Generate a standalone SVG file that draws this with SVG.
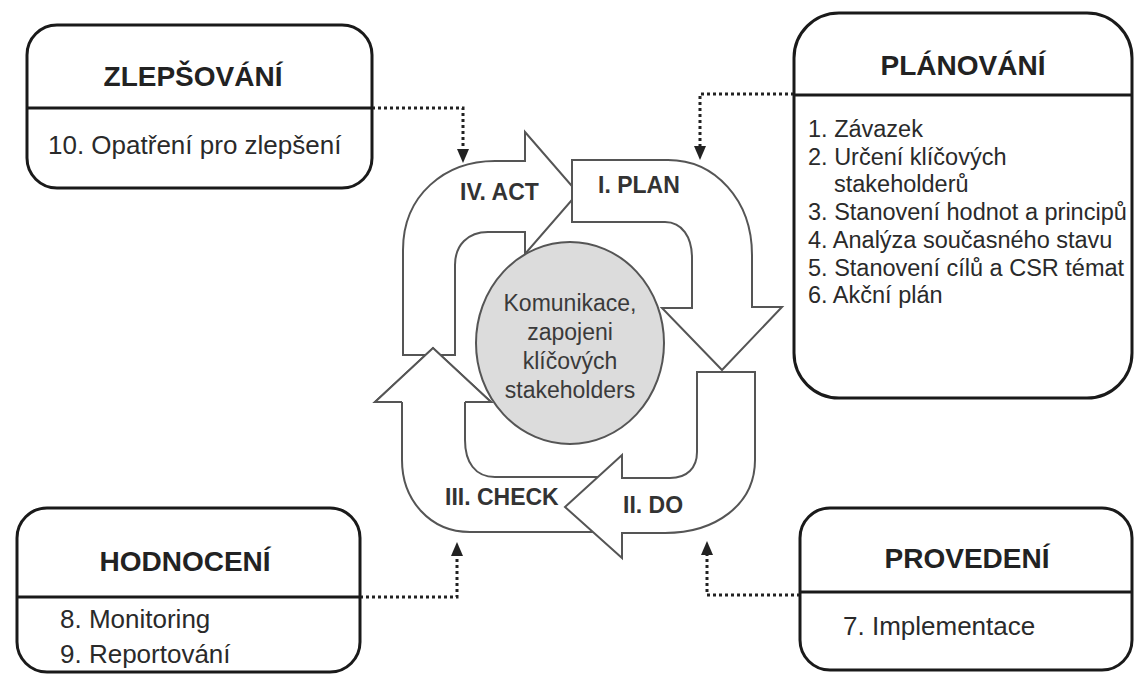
<svg xmlns="http://www.w3.org/2000/svg" width="1135" height="676" viewBox="0 0 1135 676">
  <style>
    .box { fill: #ffffff; stroke: #1a1a1a; stroke-width: 3; }
    .div { stroke: #1a1a1a; stroke-width: 3; fill: none; }
    .title { font-family: "Liberation Sans", Arial, sans-serif; font-weight: bold; font-size: 28px; fill: #222; text-anchor: middle; }
    .item { font-family: "Liberation Sans", Arial, sans-serif; font-size: 26px; fill: #2a2a2a; }
    .list { font-family: "Liberation Sans", Arial, sans-serif; font-size: 23.5px; fill: #2a2a2a; }
    .cyc { fill: #ffffff; stroke: #555555; stroke-width: 2; stroke-linejoin: miter; }
    .cycline { fill: none; stroke: #555555; stroke-width: 2; stroke-linejoin: miter; }
    .lbl { font-family: "Liberation Sans", Arial, sans-serif; font-weight: bold; font-size: 23px; fill: #333; }
    .ctr { font-family: "Liberation Sans", Arial, sans-serif; font-size: 23px; fill: #3a3a3a; text-anchor: middle; }
    .dot { fill: none; stroke: #222; stroke-width: 3; stroke-dasharray: 3 3; }
  </style>
  <defs>
    <marker id="ah" viewBox="0 0 10 10" refX="0" refY="5" markerWidth="14" markerHeight="12" markerUnits="userSpaceOnUse" orient="auto" preserveAspectRatio="none">
      <path d="M0,0 L10,5 L0,10 Z" fill="#222"/>
    </marker>
  </defs>
  <rect width="1135" height="676" fill="#ffffff"/>

  <g id="cycle">
    <path id="act" class="cyc" d="M 403 355 L 403 250 C 403 195 445 161 495 161 L 525 161 L 525 132 L 578 193 L 525 254 L 525 232 L 488 232 C 468 232 455 245 455 265 L 455 355 Z"/>
    <path id="plan" class="cyc" d="M 572 160 L 668 160 C 715 160 752 200 752 255 L 752 307 L 782 307 L 722 370 L 662 308 L 692 308 L 692 258 C 692 237 682 222 665 222 L 572 222 Z"/>
    <path id="check" class="cyc" d="M 600 532 L 470 532 C 430 532 402 500 402 460 L 402 402 L 375 402 L 433 348 L 491 402 L 465 402 L 465 440 C 465 462 475 477 495 477 L 600 477 Z"/>
    <path id="do" class="cyc" d="M 697 372 L 755 372 L 755 460 C 755 505 715 533 665 533 L 622 533 L 622 558 L 565 507 L 622 455 L 622 478 L 670 478 C 687 478 697 468 697 452 L 697 372 Z"/>
    <polygon points="402,402 375,402 433,348 491,402 465,402" fill="#ffffff"/>
    <polyline class="cycline" points="402,402 375,402 433,348 491,402 465,402"/>
    <text class="lbl" x="460" y="200">IV. ACT</text>
    <text class="lbl" x="598" y="193">I. PLAN</text>
    <text class="lbl" x="623" y="513">II. DO</text>
    <text class="lbl" x="445" y="505">III. CHECK</text>
  </g>

  <g id="center">
    <ellipse cx="570" cy="343" rx="94" ry="101" fill="#dcdcdc" stroke="#555555" stroke-width="2"/>
    <text class="ctr" x="570" y="311">Komunikace,</text>
    <text class="ctr" x="570" y="340">zapojeni</text>
    <text class="ctr" x="570" y="369">klíčových</text>
    <text class="ctr" x="570" y="398">stakeholders</text>
  </g>

  <g id="connectors">
    <path class="dot" d="M 372 108 H 463 V 149" marker-end="url(#ah)"/>
    <path class="dot" d="M 794 94 H 700 V 146" marker-end="url(#ah)"/>
    <path class="dot" d="M 360 597 H 457 V 556" marker-end="url(#ah)"/>
    <path class="dot" d="M 800 595 H 707 V 555" marker-end="url(#ah)"/>
  </g>

  <g id="zlepsovani">
    <rect class="box" x="27" y="25" width="345" height="163" rx="30" ry="30"/>
    <line class="div" x1="27" y1="108" x2="372" y2="108"/>
    <text class="title" x="193" y="86">ZLEPŠOVÁNÍ</text>
    <text class="item" x="48" y="154">10. Opatření pro zlepšení</text>
  </g>

  <g id="planovani">
    <rect class="box" x="794" y="13" width="338" height="385" rx="45" ry="45"/>
    <line class="div" x1="794" y1="95" x2="1132" y2="95"/>
    <text class="title" x="963" y="75">PLÁNOVÁNÍ</text>
    <text class="list" x="808" y="137">1. Závazek</text>
    <text class="list" x="808" y="165">2. Určení klíčových</text>
    <text class="list" x="834" y="192">stakeholderů</text>
    <text class="list" x="808" y="220">3. Stanovení hodnot a principů</text>
    <text class="list" x="808" y="248">4. Analýza současného stavu</text>
    <text class="list" x="808" y="276">5. Stanovení cílů a CSR témat</text>
    <text class="list" x="808" y="303">6. Akční plán</text>
  </g>

  <g id="hodnoceni">
    <rect class="box" x="17" y="508" width="343" height="164" rx="30" ry="30"/>
    <line class="div" x1="17" y1="597" x2="360" y2="597"/>
    <text class="title" x="185" y="571">HODNOCENÍ</text>
    <text class="item" x="60" y="628">8. Monitoring</text>
    <text class="item" x="60" y="663">9. Reportování</text>
  </g>

  <g id="provedeni">
    <rect class="box" x="800" y="508" width="332" height="162" rx="30" ry="30"/>
    <line class="div" x1="800" y1="592" x2="1132" y2="592"/>
    <text class="title" x="967" y="568">PROVEDENÍ</text>
    <text class="item" x="843" y="635">7. Implementace</text>
  </g>
</svg>
